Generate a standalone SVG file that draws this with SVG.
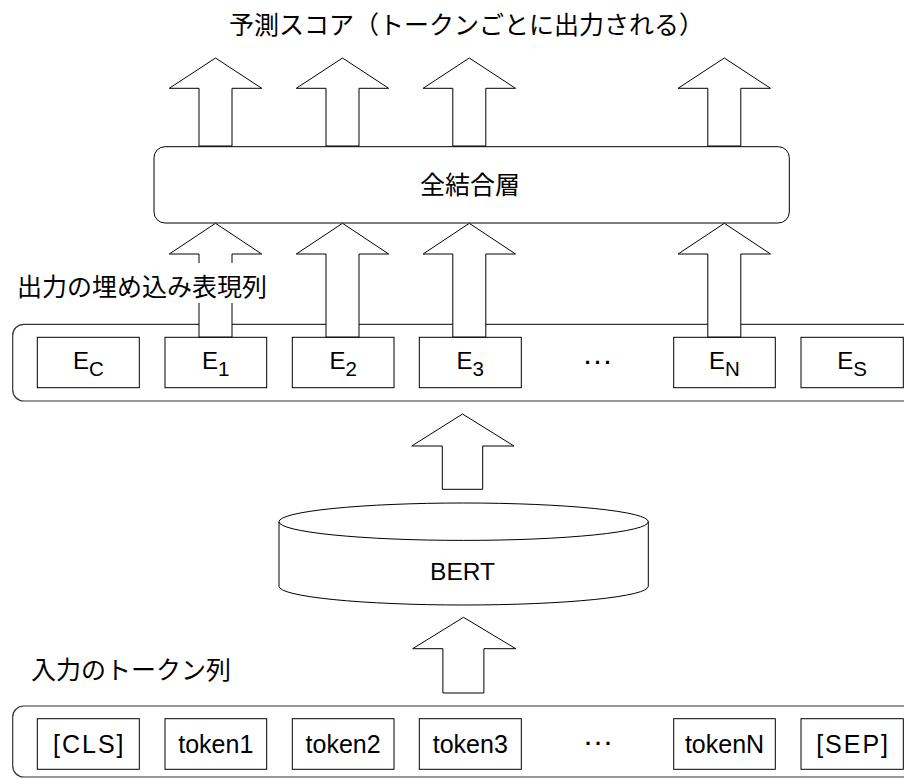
<svg xmlns="http://www.w3.org/2000/svg" width="904" height="779" viewBox="0 0 904 779">
<defs>
<style>
.box{fill:#fff;stroke:#000;stroke-width:1}
.cont{fill:#fff;stroke:#333;stroke-width:1.2}
.arr{fill:#fff;stroke:#000;stroke-width:1;stroke-linejoin:miter}
.lat{font-family:"Liberation Sans",Arial,sans-serif;fill:#000}
.jp{font-family:"Noto Sans CJK JP","Noto Sans",sans-serif;font-size:25px;fill:#000}
.t{font-size:25px;text-anchor:middle}
.br{letter-spacing:2px}
.e{font-size:24px}
.sub{font-size:20.5px}
.dots{font-family:"Liberation Sans",Arial,sans-serif;font-size:31.5px;text-anchor:middle;fill:#000}
</style>
</defs>
<rect width="904" height="779" fill="#fff"/>

<g id="title">
<text class="jp" x="229" y="34.3">予測スコア（トークンごとに出力される）</text>
</g>

<g id="fc-layer">
<rect class="box" x="154" y="146.7" width="635.3" height="76.3" rx="11"/>
<text class="jp" x="470" y="193.5" text-anchor="middle">全結合層</text>
</g>

<g id="embedding-row">
<rect class="cont" x="12.7" y="324.3" width="930" height="76.7" rx="11"/>
<g id="Ec"><rect class="box" x="37.3" y="337.3" width="102" height="50.4"/>
<text class="lat e" x="88.3" y="369" text-anchor="middle">E<tspan class="sub" dy="6.5">C</tspan></text></g>
<g id="E1"><rect class="box" x="165" y="337.3" width="101.7" height="50.4"/>
<text class="lat e" x="215.8" y="369" text-anchor="middle">E<tspan class="sub" dy="6.5">1</tspan></text></g>
<g id="E2"><rect class="box" x="292.3" y="337.3" width="101.7" height="50.4"/>
<text class="lat e" x="343.1" y="369" text-anchor="middle">E<tspan class="sub" dy="6.5">2</tspan></text></g>
<g id="E3"><rect class="box" x="419.3" y="337.3" width="102" height="50.4"/>
<text class="lat e" x="470.3" y="369" text-anchor="middle">E<tspan class="sub" dy="6.5">3</tspan></text></g>
<g id="Edots"><text class="dots" x="597.5" y="363.8">…</text></g>
<g id="EN"><rect class="box" x="673.7" y="337.3" width="101.6" height="50.4"/>
<text class="lat e" x="724.5" y="369" text-anchor="middle">E<tspan class="sub" dy="6.5">N</tspan></text></g>
<g id="Es"><rect class="box" x="801" y="337.3" width="102.3" height="50.4"/>
<text class="lat e" x="852.1" y="369" text-anchor="middle">E<tspan class="sub" dy="6.5">S</tspan></text></g>
</g>

<g id="bert">
<path class="box" d="M279,521.7 A184.65,18.7 0 0 1 648.3,521.7 L648.3,586.3 A184.65,18.7 0 0 1 279,586.3 Z"/>
<path fill="none" stroke="#000" stroke-width="1" d="M279,521.7 A184.65,18.7 0 0 0 648.3,521.7"/>
<text class="lat" x="462.5" y="580" font-size="24.5" text-anchor="middle">BERT</text>
</g>

<g id="token-row">
<rect class="cont" x="12.7" y="706" width="930" height="71" rx="11"/>
<g id="CLS"><rect class="box" x="37.3" y="718.7" width="102" height="50.6"/>
<text class="lat t br" x="89.3" y="752.5">[CLS]</text></g>
<g id="token1"><rect class="box" x="165" y="718.7" width="101.7" height="50.6"/>
<text class="lat t" x="215.8" y="752.5">token1</text></g>
<g id="token2"><rect class="box" x="292.3" y="718.7" width="101.7" height="50.6"/>
<text class="lat t" x="343.1" y="752.5">token2</text></g>
<g id="token3"><rect class="box" x="419.3" y="718.7" width="102" height="50.6"/>
<text class="lat t" x="470.3" y="752.5">token3</text></g>
<g id="tdots"><text class="dots" x="598" y="744.8">…</text></g>
<g id="tokenN"><rect class="box" x="673.7" y="718.7" width="101.6" height="50.6"/>
<text class="lat t" x="724.5" y="752.5">tokenN</text></g>
<g id="SEP"><rect class="box" x="801" y="718.7" width="102.3" height="50.6"/>
<text class="lat t br" x="853.1" y="752.5">[SEP]</text></g>
</g>

<g id="connectors">
<polygon class="arr" points="215.5,58 261.7,88.3 232,88.3 232,146 199,146 199,88.3 169.3,88.3"/>
<polygon class="arr" points="342.5,58 388.7,88.3 359,88.3 359,146 326,146 326,88.3 296.3,88.3"/>
<polygon class="arr" points="469.3,58 515.5,88.3 485.8,88.3 485.8,146 452.8,146 452.8,88.3 423.1,88.3"/>
<polygon class="arr" points="724.3,58 770.5,88.3 740.8,88.3 740.8,146 707.8,146 707.8,88.3 678.1,88.3"/>
<polygon class="arr" points="215.5,223.3 261.7,254 232,254 232,337 199,337 199,254 169.3,254"/>
<polygon class="arr" points="342.5,223.3 388.7,254 359,254 359,337 326,337 326,254 296.3,254"/>
<polygon class="arr" points="469.3,223.3 515.5,254 485.8,254 485.8,337 452.8,337 452.8,254 423.1,254"/>
<polygon class="arr" points="724.3,223.3 770.5,254 740.8,254 740.8,337 707.8,337 707.8,254 678.1,254"/>
<polygon class="arr" points="462.5,414 514,446 482.7,446 482.7,489.3 442.3,489.3 442.3,446 411.7,446"/>
<polygon class="arr" points="463.5,617.3 515.7,648.7 483.9,648.7 483.9,693 442.9,693 442.9,648.7 412.7,648.7"/>
</g>

<g id="label-embeddings">
<rect x="15" y="263" width="254" height="40" fill="#fff"/>
<text class="jp" x="17" y="296">出力の埋め込み表現列</text>
</g>

<g id="label-tokens">
<text class="jp" x="31" y="679.3">入力のトークン列</text>
</g>
</svg>
